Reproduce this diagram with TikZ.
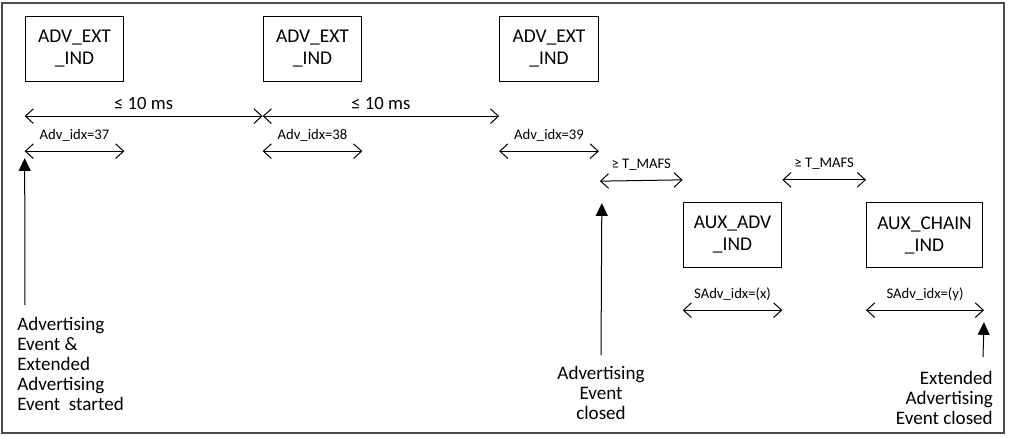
\documentclass[tikz,border=0pt]{standalone}
\usepackage{fontspec}
\setmainfont{Carlito}
\usetikzlibrary{arrows.meta,calc,positioning}

\begin{document}
\begin{tikzpicture}[x=0.75pt,y=-0.75pt,
  pdu/.style={draw,rectangle,line width=0.75pt,minimum width=74pt,minimum height=49pt,
    inner sep=0pt,align=center,font=\fontsize{14.6}{16.5}\selectfont},
  span/.style={line width=0.75pt,{Straight Barb[length=6pt,width=11pt]}-{Straight Barb[length=6pt,width=11pt]}},
  evt/.style={line width=0.75pt,-{Triangle[length=9.5pt,width=9pt]}},
  note/.style={inner sep=0pt,font=\fontsize{14.3}{15}\selectfont},
  gaplbl/.style={anchor=base,inner sep=0pt,yshift=5.25pt,font=\fontsize{14}{16}\selectfont},
  idxlbl/.style={anchor=base,inner sep=0pt,yshift=9pt,font=\fontsize{11}{13}\selectfont}]

        \useasboundingbox (0,0) rectangle (1010,437);
        \draw[gray!60!black,line width=1.2pt] (2,3) rectangle (1004,433);

        % advertising PDUs
        \node[pdu] (ind1) at (74.5,49) {ADV\_EXT\\\_IND};
        \node[pdu] (ind2) at (312.5,49) {ADV\_EXT\\\_IND};
        \node[pdu] (ind3) at (549,49) {ADV\_EXT\\\_IND};
        \node[pdu] (auxadv) at (732.5,235) {AUX\_ADV\\\_IND};
        \node[pdu,minimum width=87pt] (auxchain) at (924.5,235) {AUX\_CHAIN\\\_IND};

        % event texts
        \node[note,align=left,anchor=north west] (started) at (17,317)
          {Advertising\\Event \&\\Extended\\Advertising\\Event\ \ started};
        \node[note,align=center,anchor=north] (evclosed) at (601,366)
          {Advertising\\Event\\closed};
        \node[note,align=right,anchor=north east] (extclosed) at (993,371)
          {Extended\\Advertising\\Event closed};

        % intervals
        \path ($(ind1.south west)+(0,34)$) coordinate (t0)
              ($(ind2.south west)+(0,34)$) coordinate (t1)
              ($(ind3.south west)+(0,34)$) coordinate (t2);
        \draw[span] (t0) -- node[gaplbl]{≤ 10 ms} (t1);
        \draw[span] (t1) -- node[gaplbl]{≤ 10 ms} (t2);

        \foreach \b/\n in {ind1/37,ind2/38,ind3/39}
          \draw[span] ($(\b.south west)+(0,69)$) -- node[idxlbl]{Adv\_idx=\n} ($(\b.south east)+(0,69)$);

        \draw[span] ($(ind3.south east)+(1,99)$) -- node[idxlbl]{≥ T\_MAFS} ($(auxadv.north west)+(0,-22)$);
        \draw[span] ($(auxadv.north east)+(0,-22)$) -- node[idxlbl]{≥ T\_MAFS} ($(auxchain.north west)+(0,-22)$);

        \draw[span] ($(auxadv.south west)+(0,42)$) -- node[idxlbl]{SAdv\_idx=(x)} ($(auxadv.south east)+(0,42)$);
        \draw[span] ($(auxchain.south west)+(0,42)$) -- node[idxlbl]{SAdv\_idx=(y)} ($(auxchain.south east)+(1,42)$);

        % event markers
        \draw[evt] ($(started.north west)+(8,-12)$) -- ($(t0)+(0,42)$);
        \draw[evt] ($(evclosed.north)+(0,-11)$) -- ($(ind3.south east)+(3,121)$);
        \draw[evt] ($(extclosed.north east)+(-10,-14)$) -- ($(auxchain.south east)+(1,54)$);
\end{tikzpicture}
\end{document}
